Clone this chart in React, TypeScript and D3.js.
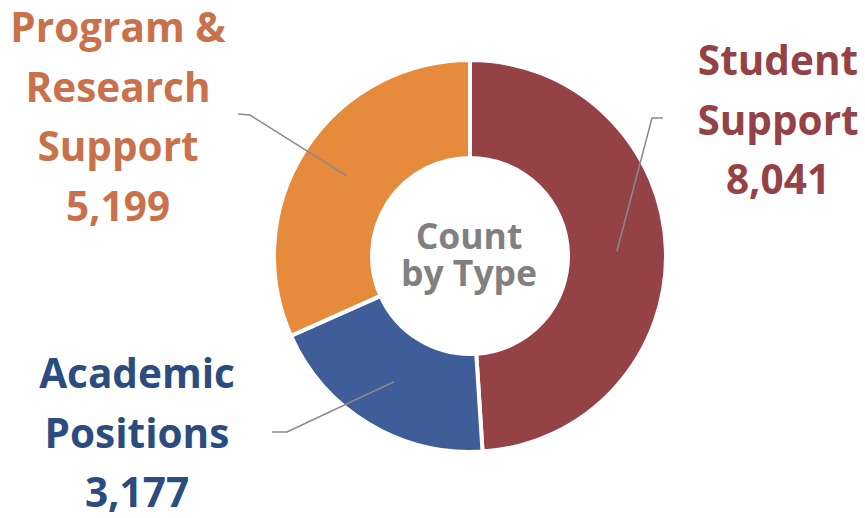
import { useEffect, useRef } from "react";
import * as d3 from "d3";

const WIDTH = 865;
const HEIGHT = 518;
const CENTER = { x: 470, y: 256 };
const OUTER = 196;
const INNER = 98;

const categories = ["Student Support", "Academic Positions", "Program & Research Support"];
const counts = [8041, 3177, 5199];
const sliceColors = ["#954246", "#3F5D99", "#E68A3C"];
const labelColors = ["#954246", "#2B4C7E", "#C8714A"];
const labelLines = [
  ["Student", "Support"],
  ["Academic", "Positions"],
  ["Program &", "Research", "Support"]
];

// label block centre x, first baseline y, elbow of the leader line, end of the leader line
const LABEL_LAYOUT = [
  { x: 778, y: 75, elbow: [652, 118], end: [663, 118] },
  { x: 137, y: 388, elbow: [287, 432], end: [272, 432] },
  { x: 118, y: 42, elbow: [250, 115], end: [238, 114] }
];
const LINE_HEIGHT = 59.5;
const FONT = "'Open Sans', Lato, sans-serif";

export default function App() {
  const svgRef = useRef<SVGSVGElement | null>(null);

  useEffect(() => {
    const svg = d3.select(svgRef.current);
    svg.selectAll("*").remove();

    const data = categories.map((name, i) => ({ name, value: counts[i], i }));
    const pie = d3
      .pie<{ name: string; value: number; i: number }>()
      .sort(null)
      .value((d) => d.value);
    const arcs = pie(data);
    const arc = d3
      .arc<d3.PieArcDatum<{ name: string; value: number; i: number }>>()
      .innerRadius(INNER)
      .outerRadius(OUTER);

    const g = svg.append("g").attr("transform", `translate(${CENTER.x}, ${CENTER.y})`);

    g.selectAll("path.slice")
      .data(arcs)
      .join("path")
      .attr("class", "slice")
      .attr("d", arc)
      .attr("fill", (d) => sliceColors[d.data.i])
      .attr("stroke", "#ffffff")
      .attr("stroke-width", 4)
      .attr("stroke-linejoin", "miter");

    arcs.forEach((d) => {
      const layout = LABEL_LAYOUT[d.data.i];
      const [cx, cy] = arc.centroid(d);
      svg
        .append("polyline")
        .attr(
          "points",
          [
            [CENTER.x + cx, CENTER.y + cy],
            layout.elbow,
            layout.end
          ]
            .map((p) => p.join(","))
            .join(" ")
        )
        .attr("fill", "none")
        .attr("stroke", "#8a8a8a")
        .attr("stroke-width", 1.5);

      const lines = [...labelLines[d.data.i], d3.format(",")(d.data.value)];
      const text = svg
        .append("text")
        .attr("text-anchor", "middle")
        .attr("fill", labelColors[d.data.i])
        .attr("font-family", FONT)
        .attr("font-weight", 700)
        .attr("font-size", 40.5);
      lines.forEach((line, k) => {
        text
          .append("tspan")
          .attr("x", layout.x)
          .attr("y", layout.y + k * LINE_HEIGHT)
          .text(line);
      });
    });

    const center = svg
      .append("text")
      .attr("text-anchor", "middle")
      .attr("fill", "#808080")
      .attr("font-family", FONT)
      .attr("font-weight", 700)
      .attr("font-size", 35.5);
    ["Count", "by Type"].forEach((line, k) => {
      center
        .append("tspan")
        .attr("x", CENTER.x - 1)
        .attr("y", 249 + k * 37)
        .text(line);
    });
  }, []);

  return (
    <svg
      ref={svgRef}
      width={WIDTH}
      height={HEIGHT}
      style={{ position: "absolute", left: 0, top: 0, background: "#ffffff" }}
    />
  );
}
